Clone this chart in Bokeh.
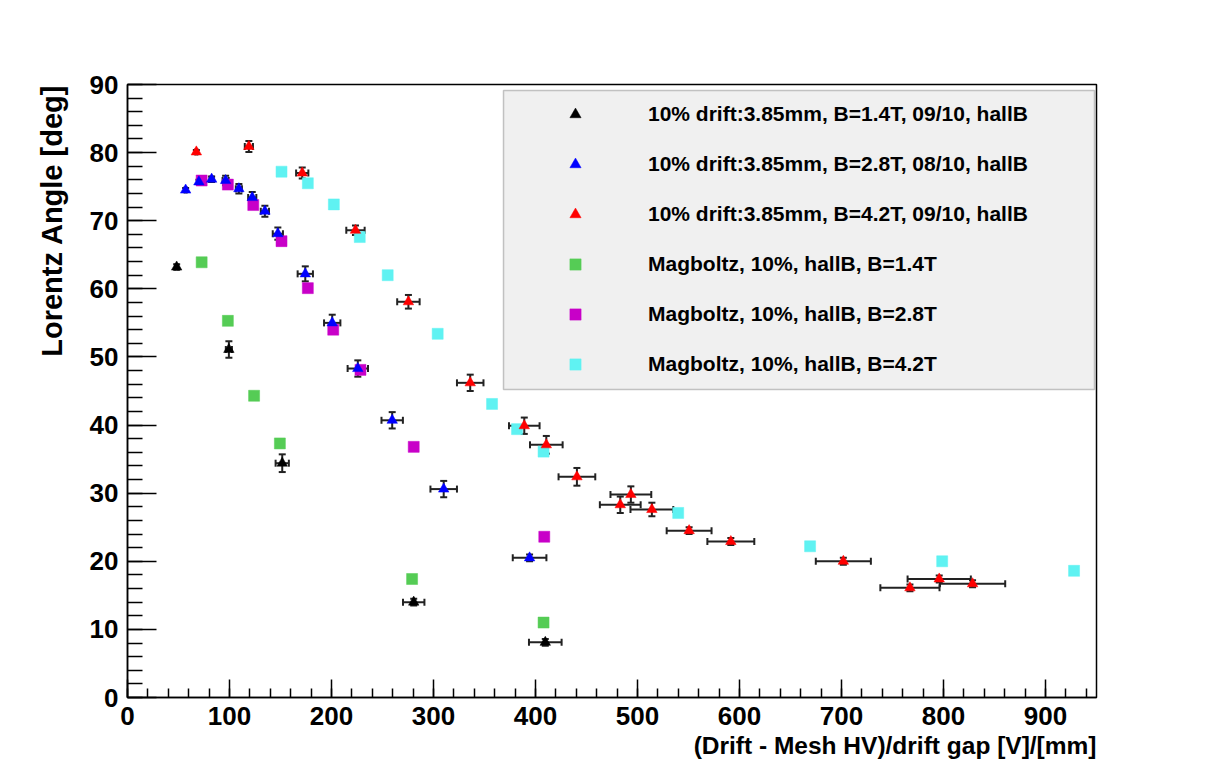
from bokeh.plotting import figure
from bokeh.models import (ColumnDataSource, Whisker, TeeHead, Legend, LegendItem,
                          SingleIntervalTicker, Range1d, Title, BoxAnnotation)
from bokeh.embed import file_html
from bokeh.resources import INLINE

# ---------------- data ----------------
# measured, B = 1.4 T (black triangles)
d14_x = [48.2, 99.4, 151.7, 280.6, 409.6]
d14_y = [63.2, 51.1, 34.4, 14.0, 8.1]
d14_xerr = [1.5, 3.0, 6.5, 10.5, 16.0]
d14_yerr = [0.4, 1.2, 1.3, 0.5, 0.5]

# measured, B = 2.8 T (blue triangles)
d28_x = [57.0, 70.0, 82.5, 96.2, 109.2, 122.3, 134.7, 147.4, 174.3, 200.7, 225.8, 259.5, 310.0, 394.2]
d28_y = [74.5, 75.7, 76.1, 75.9, 74.7, 73.4, 71.4, 68.1, 62.2, 55.0, 48.3, 40.7, 30.6, 20.5]
d28_xerr = [1.0, 1.5, 2.0, 3.0, 3.0, 4.0, 4.0, 5.0, 7.5, 8.0, 10.0, 10.5, 13.0, 16.5]
d28_yerr = [0.3, 0.3, 0.4, 0.7, 0.7, 0.8, 0.8, 0.9, 1.1, 1.2, 1.2, 1.2, 1.2, 0.5]

# measured, B = 4.2 T (red triangles)
d42_x = [67.5, 119.0, 171.3, 223.5, 275.4, 336.0, 389.0, 410.6, 440.6, 483.1, 493.5, 514.1,
         550.6, 591.5, 701.8, 767.1, 795.8, 828.5]
d42_y = [80.1, 80.9, 77.0, 68.6, 58.1, 46.2, 39.9, 37.1, 32.4, 28.3, 29.8, 27.6,
         24.5, 22.9, 20.0, 16.1, 17.4, 16.7]
d42_xerr = [1.0, 4.0, 6.0, 9.0, 11.0, 13.0, 15.0, 16.0, 18.0, 20.0, 20.0, 21.0,
            22.0, 23.0, 27.0, 29.0, 31.0, 32.0]
d42_yerr = [0.3, 0.8, 0.8, 0.7, 1.0, 1.2, 1.2, 1.3, 1.3, 1.2, 1.2, 1.0,
            0.5, 0.5, 0.5, 0.5, 0.5, 0.5]

# Magboltz simulations (squares)
m14_x = [72.7, 98.4, 124.1, 149.4, 279.0, 407.9]
m14_y = [63.9, 55.3, 44.3, 37.3, 17.4, 11.0]

m28_x = [72.7, 98.4, 123.3, 151.0, 176.8, 201.7, 228.4, 280.6, 408.6]
m28_y = [75.9, 75.3, 72.3, 67.0, 60.1, 54.0, 48.1, 36.8, 23.6]

m42_x = [151.0, 176.8, 202.3, 227.7, 255.1, 304.1, 357.4, 381.9, 407.9, 539.9, 669.2, 798.7, 928.0]
m42_y = [77.2, 75.5, 72.4, 67.6, 62.0, 53.4, 43.1, 39.4, 36.1, 27.1, 22.2, 20.0, 18.6]

labels = [
    "10% drift:3.85mm, B=1.4T, 09/10, hallB",
    "10% drift:3.85mm, B=2.8T, 08/10, hallB",
    "10% drift:3.85mm, B=4.2T, 09/10, hallB",
    "Magboltz, 10%, hallB, B=1.4T",
    "Magboltz, 10%, hallB, B=2.8T",
    "Magboltz, 10%, hallB, B=4.2T",
]
x_title = "(Drift - Mesh HV)/drift gap [V]/[mm]"
y_title = "Lorentz Angle [deg]"

# ---------------- style ----------------
FONT = "Liberation Sans"
C_BLACK, C_BLUE, C_RED = "#000000", "#0000ff", "#ff0000"
C_GREEN, C_MAG, C_CYAN = "#55cc55", "#c800c8", "#5ff2f2"
EB = "#222222"

p = figure(width=1203, height=760, x_range=Range1d(0, 950), y_range=Range1d(0, 90),
           output_backend="svg", toolbar_location=None,
           min_border_left=127, min_border_right=107, min_border_top=84, min_border_bottom=62)
p.xgrid.visible = False
p.ygrid.visible = False
p.background_fill_color = "white"
p.border_fill_color = "white"
p.outline_line_color = "black"
p.outline_line_width = 1.5

p.xaxis.ticker = SingleIntervalTicker(interval=100, num_minor_ticks=5)
p.yaxis.ticker = SingleIntervalTicker(interval=10, num_minor_ticks=5)
for ax in (p.xaxis[0], p.yaxis[0]):
    ax.major_tick_out = 0
    ax.minor_tick_out = 0
    ax.axis_line_color = "black"
    ax.axis_line_width = 1.5
    ax.major_tick_line_color = "black"
    ax.minor_tick_line_color = "black"
    ax.major_tick_line_width = 1.5
    ax.minor_tick_line_width = 1.5
    ax.major_label_text_font = FONT
    ax.major_label_text_font_style = "bold"
    ax.major_label_text_font_size = "26px"
    ax.major_label_text_color = "black"
    ax.major_label_standoff = 9
p.xaxis.major_tick_in = 18
p.xaxis.minor_tick_in = 9
p.yaxis.major_tick_in = 29
p.yaxis.minor_tick_in = 15

# ---------------- squares (Magboltz) ----------------
sq_renderers = []
for xs, ys, col in ((m14_x, m14_y, C_GREEN), (m28_x, m28_y, C_MAG), (m42_x, m42_y, C_CYAN)):
    src = ColumnDataSource(dict(x=xs, y=ys))
    r = p.scatter(x="x", y="y", source=src, marker="square", size=11,
                  fill_color=col, line_color=col, line_width=0.5)
    sq_renderers.append(r)

# ---------------- measured triangles with error bars ----------------
tri_renderers = []
for xs, ys, xe, ye, col in ((d14_x, d14_y, d14_xerr, d14_yerr, C_BLACK),
                            (d28_x, d28_y, d28_xerr, d28_yerr, C_BLUE),
                            (d42_x, d42_y, d42_xerr, d42_yerr, C_RED)):
    src = ColumnDataSource(dict(
        x=xs, y=ys,
        xl=[a - b for a, b in zip(xs, xe)], xu=[a + b for a, b in zip(xs, xe)],
        yl=[a - b for a, b in zip(ys, ye)], yu=[a + b for a, b in zip(ys, ye)],
    ))
    p.add_layout(Whisker(source=src, base="y", lower="xl", upper="xu", dimension="width",
                         line_color=EB, line_width=2,
                         lower_head=TeeHead(size=7, line_color=EB, line_width=2),
                         upper_head=TeeHead(size=7, line_color=EB, line_width=2)))
    p.add_layout(Whisker(source=src, base="x", lower="yl", upper="yu", dimension="height",
                         line_color=EB, line_width=2,
                         lower_head=TeeHead(size=7, line_color=EB, line_width=2),
                         upper_head=TeeHead(size=7, line_color=EB, line_width=2)))
    r = p.scatter(x="x", y="y", source=src, marker="triangle", size=10.5,
                  fill_color=col, line_color=col, line_width=0.5)
    tri_renderers.append(r)

# ---------------- legend ----------------
p.add_layout(BoxAnnotation(left=376, right=967, bottom=308, top=607,
                           left_units="screen", right_units="screen",
                           bottom_units="screen", top_units="screen",
                           fill_color="#f0f0f0", fill_alpha=1.0,
                           line_color="#444444", line_width=1.5))

items = [LegendItem(label=lab, renderers=[r])
         for lab, r in zip(labels, tri_renderers + sq_renderers)]
legend = Legend(items=items, location=(376, 308),
                glyph_width=124, glyph_height=28, label_height=31, spacing=19,
                padding=10, label_standoff=11, margin=0,
                label_text_font=FONT, label_text_font_style="bold",
                label_text_font_size="21px", label_text_color="black",
                background_fill_alpha=0.0, border_line_alpha=0.0)
p.add_layout(legend)

# ---------------- axis titles (ROOT style: right aligned) ----------------
p.add_layout(Title(text=y_title, align="right", standoff=38,
                   text_font=FONT, text_font_style="bold", text_font_size="29px",
                   text_color="black"), "left")
p.add_layout(Title(text=x_title, align="right", standoff=4,
                   text_font=FONT, text_font_style="bold", text_font_size="24.5px",
                   text_color="black"), "below")

open("out.html", "w").write(file_html(p, INLINE))
